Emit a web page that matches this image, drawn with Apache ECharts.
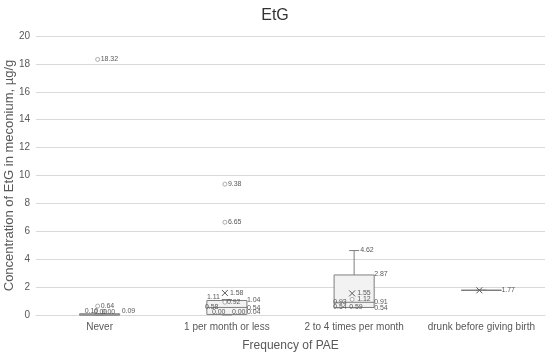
<!DOCTYPE html>
<html>
<head>
<meta charset="utf-8">
<script src="https://cdn.jsdelivr.net/npm/echarts@6/dist/echarts.min.js"></script>
<style>html,body{margin:0;padding:0;background:#fff}#c{width:550px;height:355px}</style>
</head>
<body>
<div id="c"></div>
<script>
const categories = ['Never', '1 per month or less', '2 to 4 times per month', 'drunk before giving birth'];
const yTicks = [0, 20, 2]; // min, max, interval
const whiskerMin = [0, 0, 0.54, 1.77];
const quartile1 = [0, 0.04, 0.54, 1.77];
const medians = [0, 0.54, 0.91, 1.77];
const quartile3 = [0.09, 1.04, 2.87, 1.77];
const whiskerMax = [0.10, 1.11, 4.62, 1.77];
const means = [null, 1.58, 1.55, 1.77];
const outlierCats = [0, 0, 1, 1];
const outlierValues = [18.32, 0.64, 9.38, 6.65];
const innerCats = [1, 2];
const innerValues = [0.92, 1.12];
// data labels (category, value)
const labelCats = [0, 0, 0, 0, 0, 0,
                   1, 1, 1, 1, 1, 1, 1, 1, 1, 1, 1,
                   2, 2, 2, 2, 2, 2, 2, 2, 2,
                   3];
const labelValues = [18.32, 0.64, 0.10, 0.00, 0.00, 0.09,
                     9.38, 6.65, 1.58, 1.11, 1.04, 0.92, 0.58, 0.54, 0.00, 0.00, 0.04,
                     4.62, 2.87, 1.55, 1.12, 0.93, 0.91, 0.54, 0.59, 0.54,
                     1.77];
// label horizontal offsets from category centre (px) – style only
const labelDx = [1, 1, -15, -6, 2, 22,
                 1, 1, 3, -20, 20, 0, -22, 20, -15, 5, 20,
                 6, 20, 3, 3, -21, 20, -21, -5, 20,
                 20];
const labelDy = [0, 0, -3, -3, -3, -3,
                 0, 0, 0, -2, 0, 0, 0, 1, -3, -3, -2,
                 0, -1, 0, 0, 0, 0, 0, 0, 1,
                 0];

const FONT = 'Liberation Sans';
const chart = echarts.init(document.getElementById('c'), null, {renderer: 'canvas'});

const boxData = categories.map((c, i) => [i, whiskerMin[i], quartile1[i], medians[i], quartile3[i], whiskerMax[i], means[i] == null ? NaN : means[i]]);
const labelData = labelCats.map((c, i) => [c, labelValues[i], labelDx[i], labelDy[i]]);

const LINE = '#7f7f7f';

chart.setOption({
  animation: false,
  textStyle: {fontFamily: FONT},
  title: {
    text: 'EtG', left: 'center', top: 3,
    textStyle: {fontFamily: FONT, fontSize: 16, fontWeight: 'normal', color: '#333333'}
  },
  grid: {left: 36, right: 5, top: 36, bottom: 40, containLabel: false, outerBoundsMode: 'none'},
  xAxis: {
    type: 'category', data: categories,
    axisTick: {show: false},
    axisLine: {show: true, lineStyle: {color: '#d9d9d9'}},
    axisLabel: {fontSize: 10, color: '#595959', margin: 7, interval: 0},
    name: 'Frequency of PAE', nameLocation: 'middle', nameGap: 25, nameMoveOverlap: false,
    nameTextStyle: {fontSize: 12, color: '#595959'}
  },
  yAxis: {
    type: 'value', min: yTicks[0], max: yTicks[1], interval: yTicks[2],
    axisLine: {show: false}, axisTick: {show: false},
    splitLine: {lineStyle: {color: '#d9d9d9'}},
    axisLabel: {fontSize: 10, color: '#595959', margin: 6},
    name: 'Concentration of EtG in meconium, µg/g', nameLocation: 'middle', nameGap: 20, nameMoveOverlap: false,
    nameTextStyle: {fontSize: 13, color: '#595959'}
  },
  series: [
    {
      type: 'custom',
      data: boxData,
      encode: {x: 0, y: [1, 2, 3, 4, 5]},
      z: 2,
      renderItem: function (params, api) {
        const cat = api.value(0);
        const bw = api.size([1, 0])[0] * 0.315;
        const cap = 10;
        const pMin = api.coord([cat, api.value(1)]);
        const pQ1 = api.coord([cat, api.value(2)]);
        const pMed = api.coord([cat, api.value(3)]);
        const pQ3 = api.coord([cat, api.value(4)]);
        const pMax = api.coord([cat, api.value(5)]);
        const x = pMed[0];
        const ls = {stroke: LINE, lineWidth: 1};
        const ch = [];
        ch.push({type: 'line', shape: {x1: x, y1: pQ3[1], x2: x, y2: pMax[1]}, style: ls});
        ch.push({type: 'line', shape: {x1: x - cap / 2, y1: pMax[1], x2: x + cap / 2, y2: pMax[1]}, style: ls});
        ch.push({type: 'line', shape: {x1: x, y1: pQ1[1], x2: x, y2: pMin[1]}, style: ls});
        ch.push({type: 'line', shape: {x1: x - cap / 2, y1: pMin[1], x2: x + cap / 2, y2: pMin[1]}, style: ls});
        ch.push({type: 'rect', shape: {x: x - bw / 2, y: pQ3[1], width: bw, height: Math.max(pQ1[1] - pQ3[1], 0)},
                 style: {fill: '#f2f2f2', stroke: LINE, lineWidth: 1}});
        ch.push({type: 'line', shape: {x1: x - bw / 2, y1: pMed[1], x2: x + bw / 2, y2: pMed[1]}, style: ls});
        const m = api.value(6);
        if (!isNaN(m)) {
          const pm = api.coord([cat, m]);
          const s = 3;
          const mx = pm[0] - 2;
          ch.push({type: 'line', shape: {x1: mx - s, y1: pm[1] - s, x2: mx + s, y2: pm[1] + s}, style: {stroke: '#595959', lineWidth: 1}});
          ch.push({type: 'line', shape: {x1: mx - s, y1: pm[1] + s, x2: mx + s, y2: pm[1] - s}, style: {stroke: '#595959', lineWidth: 1}});
        }
        return {type: 'group', children: ch};
      }
    },
    {
      type: 'scatter',
      data: outlierCats.map((c, i) => [c, outlierValues[i]]).concat(innerCats.map((c, i) => [c, innerValues[i]])),
      symbol: 'circle', symbolSize: 4, symbolOffset: [-2, 0],
      itemStyle: {color: '#ffffff', borderColor: LINE, borderWidth: 0.8},
      z: 3
    },
    {
      type: 'custom',
      data: labelData,
      encode: {x: 0, y: 1},
      z: 4,
      renderItem: function (params, api) {
        const p = api.coord([api.value(0), api.value(1)]);
        return {
          type: 'text',
          style: {
            x: p[0] + api.value(2), y: p[1] + api.value(3),
            text: api.value(1).toFixed(2),
            fill: '#595959', font: '7px "' + FONT + '"',
            textAlign: 'left', textVerticalAlign: 'middle'
          }
        };
      }
    }
  ]
});
</script>
</body>
</html>
